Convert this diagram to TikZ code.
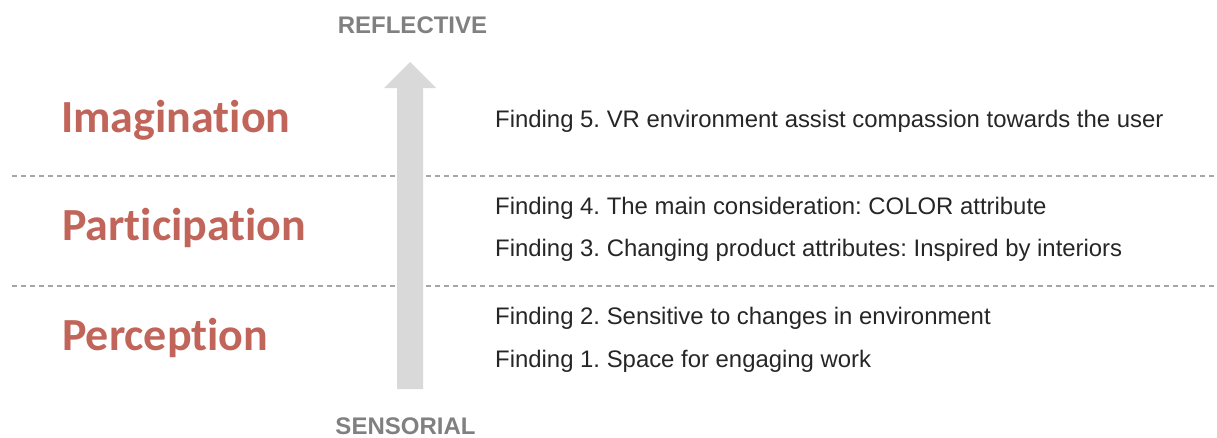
\documentclass[tikz,border=0pt]{standalone}
\usepackage{fontspec}
\setmainfont{Liberation Sans}
\newfontfamily\headfont[Ligatures=NoCommon]{Carlito}
\definecolor{headred}{RGB}{193,101,91}
\definecolor{labgray}{RGB}{128,128,128}
\definecolor{arrowgray}{RGB}{217,217,217}
\definecolor{dashgray}{RGB}{166,166,166}
\begin{document}
\frenchspacing
\begin{tikzpicture}[x=1pt,y=-1pt,
  level/.style={anchor=west,inner sep=0pt,text=headred,font=\headfont\bfseries\fontsize{46}{52}\selectfont},
  finding/.style={anchor=west,inner sep=0pt,text=black!85,font=\fontsize{23.9}{28}\selectfont},
  axislabel/.style={anchor=base,inner sep=0pt,text=labgray,font=\bfseries\fontsize{24}{28}\selectfont},
  sep/.style={draw=dashgray,line width=1.2pt,dash pattern=on 5pt off 4pt}]
\useasboundingbox (0,0) rectangle (1217,437);
% separators
\coordinate (s1a) at (12,176); \coordinate (s1b) at (1217,176);
\coordinate (s2a) at (12,286); \coordinate (s2b) at (1217,286);
\draw[sep] (s1a) -- (s1b);
\draw[sep] (s2a) -- (s2b);
% arrow
\fill[arrowgray] (397,389) -- (397,88) -- (384,88) -- (410,62) -- (436,88) -- (423,88) -- (423,389) -- cycle;
% axis labels
\node[axislabel] (refl) at (412.5,33.5) {REFLECTIVE};
\node[axislabel] (sens) at (405.5,434) {SENSORIAL};
% levels
\node[level] (imag) at (61,120) {Imagination};
\node[level] (part) at (62,228) {Participation};
\node[level] (perc) at (62,338) {Perception};
% findings
\node[finding] (f5) at (495,121) {Finding 5. VR environment assist compassion towards the user};
\node[finding] (f4) at (495,208) {Finding 4. The main consideration: COLOR attribute};
\node[finding] (f3) at (495,250) {Finding 3. Changing product attributes: Inspired by interiors};
\node[finding] (f2) at (495,318) {Finding 2. Sensitive to changes in environment};
\node[finding] (f1) at (495,361) {Finding 1. Space for engaging work};
\end{tikzpicture}
\end{document}
